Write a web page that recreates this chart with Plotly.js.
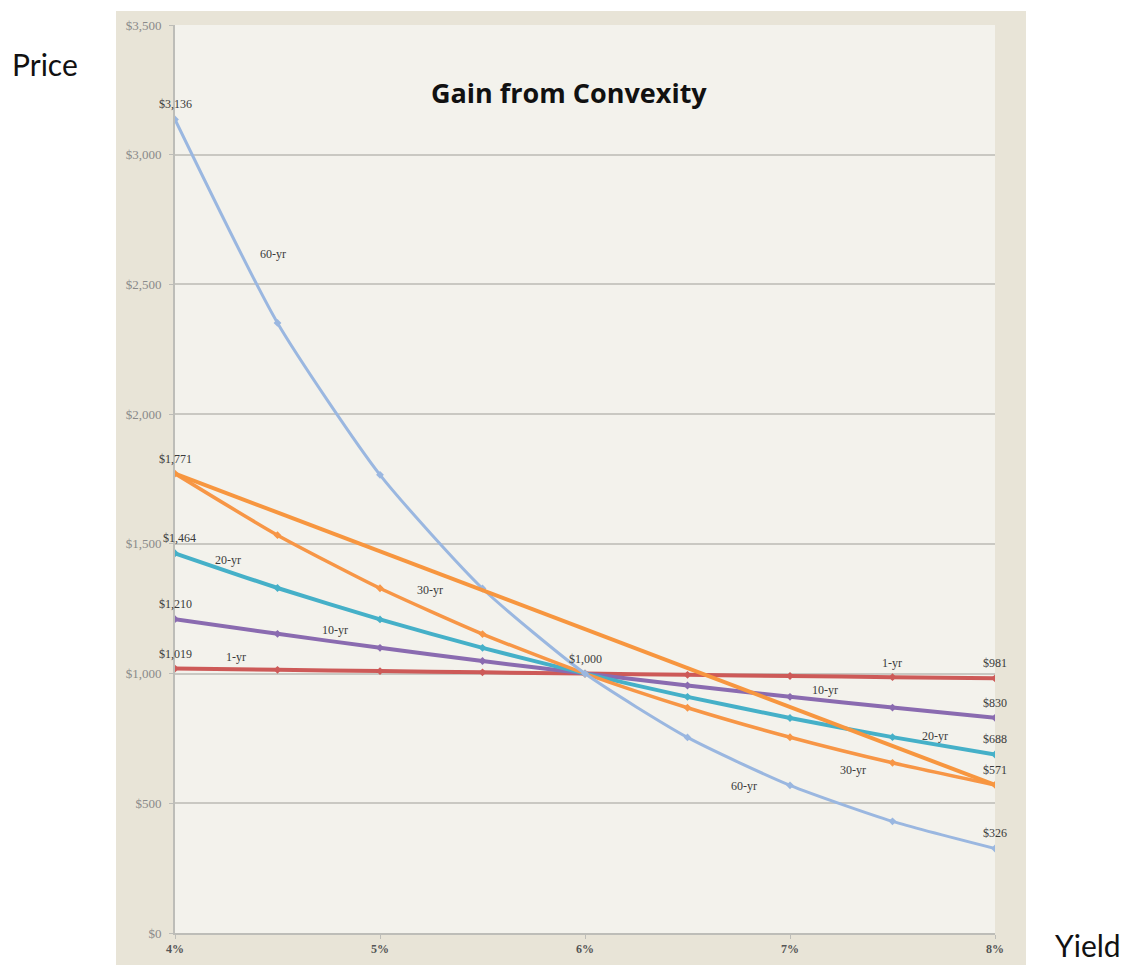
<!DOCTYPE html>
<html>
<head>
<meta charset="utf-8">
<script src="https://cdn.plot.ly/plotly-3.0.1.min.js"></script>
<style>html,body{margin:0;padding:0;background:#fff;}#chart{width:1127px;height:965px;}</style>
</head>
<body>
<div id="chart"></div>
<script>
// Yields (%)
const yields = [4, 4.5, 5, 5.5, 6, 6.5, 7, 7.5, 8];
// Bond prices by maturity
const price1yr  = [1019.2, 1014.4, 1009.5, 1004.7, 1000, 995.3, 990.7, 986.0, 981.5];
const price10yr = [1209.8, 1153.2, 1099.4, 1048.4, 1000, 954.0, 910.4, 868.9, 829.5];
const price20yr = [1463.7, 1329.8, 1208.7, 1099.2, 1000, 910.2, 828.8, 755.0, 688.1];
const price30yr = [1770.9, 1533.5, 1328.9, 1152.4, 1000, 868.3, 754.5, 656.0, 570.8];
const price60yr = [3135.9, 2351.6, 1766.0, 1328.0, 1000, 754.0, 569.3, 430.4, 325.8];
// Straight (linear) line between the 30-yr end points
const chordX = [4, 8];
const chordY = [1771, 571];

// Value labels
const valueLabelX    = [4, 4, 4, 4, 4, 6, 8, 8, 8, 8, 8];
const valueLabelY    = [3135.9, 1770.9, 1463.7, 1209.8, 1019.2, 1000, 981.5, 829.5, 688.1, 570.8, 325.8];
const valueLabelText = ["$3,136", "$1,771", "$1,464", "$1,210", "$1,019", "$1,000", "$981", "$830", "$688", "$571", "$326"];

// Series name labels
const nameLabelX    = [4.478, 4.259, 5.244, 4.780, 4.298, 7.498, 7.171, 7.707, 7.307, 6.776];
const nameLabelY    = [2617, 1438, 1322, 1168, 1064, 1041, 937, 759, 628, 567];
const nameLabelText = ["60-yr", "20-yr", "30-yr", "10-yr", "1-yr", "1-yr", "10-yr", "20-yr", "30-yr", "60-yr"];

// Axis ticks
const yTickVals = [0, 500, 1000, 1500, 2000, 2500, 3000, 3500];
const yTickText = ["$0", "$500", "$1,000", "$1,500", "$2,000", "$2,500", "$3,000", "$3,500"];
const xTickVals = [4, 5, 6, 7, 8];
const xTickText = ["4%", "5%", "6%", "7%", "8%"];

function series(y, color, width) {
  return {
    x: yields, y: y, type: 'scatter', mode: 'lines+markers',
    line: {color: color, width: width, shape: 'spline', smoothing: 0.6},
    marker: {color: color, size: 6, symbol: 'diamond'},
    hoverinfo: 'skip'
  };
}

const traces = [
  series(price1yr, '#cd5a58', 4),
  series(price10yr, '#8a6bb0', 4),
  series(price20yr, '#45b0c8', 4),
  series(price30yr, '#f79646', 3.5),
  series(price60yr, '#9ab7e0', 3),
  {x: chordX, y: chordY, type: 'scatter', mode: 'lines',
   line: {color: '#f7963f', width: 4}, hoverinfo: 'skip'}
];

const labelFont = {family: 'Liberation Serif, DejaVu Serif, serif', size: 12, color: '#3a3a3a'};
const annotations = [];
valueLabelText.forEach((t, i) => annotations.push({
  x: valueLabelX[i], y: valueLabelY[i], xref: 'x', yref: 'y', text: t,
  showarrow: false, yshift: 15, xshift: (t === '$1,464' ? 4 : 0), font: labelFont
}));
nameLabelText.forEach((t, i) => annotations.push({
  x: nameLabelX[i], y: nameLabelY[i], xref: 'x', yref: 'y', text: t,
  showarrow: false, font: labelFont
}));
annotations.push({x: 0.4805, y: 0.9262, xref: 'paper', yref: 'paper', xanchor: 'center', yanchor: 'middle',
  text: '<b>Gain from Convexity</b>',
  showarrow: false, font: {family: 'Open Sans, Lato, sans-serif', size: 27, color: '#111'}});
annotations.push({x: -0.1585, y: 0.957, xref: 'paper', yref: 'paper', xanchor: 'center', yanchor: 'middle',
  text: 'Price',
  showarrow: false, font: {family: 'Lato, Open Sans, sans-serif', size: 30, color: '#111'}});
annotations.push({x: 1.1134, y: -0.0132, xref: 'paper', yref: 'paper', xanchor: 'center', yanchor: 'middle',
  text: 'Yield',
  showarrow: false, font: {family: 'Lato, Open Sans, sans-serif', size: 30, color: '#111'}});

const layout = {
  width: 1127, height: 965,
  margin: {l: 175, r: 132, t: 25, b: 32},
  paper_bgcolor: '#ffffff',
  plot_bgcolor: 'rgba(0,0,0,0)',
  showlegend: false,
  hovermode: false,
  xaxis: {
    range: [4, 8], tickvals: xTickVals, ticktext: xTickText,
    showgrid: false, zeroline: false,
    showline: true, linecolor: '#bdbdb8', linewidth: 2,
    ticks: 'outside', ticklen: 4, tickcolor: '#bdbdb8', tickwidth: 1,
    tickfont: {family: 'Liberation Serif, DejaVu Serif, serif', size: 12, color: '#555', weight: 'bold'}
  },
  yaxis: {
    range: [0, 3500], tickvals: yTickVals, ticktext: yTickText,
    showgrid: true, gridcolor: '#c9c8c2', gridwidth: 2, zeroline: false,
    showline: true, linecolor: '#bdbdb8', linewidth: 2,
    ticks: 'outside', ticklen: 4, tickcolor: '#bdbdb8', tickwidth: 1,
    ticklabelstandoff: 5,
    tickfont: {family: 'Liberation Serif, DejaVu Serif, serif', size: 13, color: '#8a8a8a'}
  },
  shapes: [
    {type: 'rect', xref: 'paper', yref: 'paper', x0: -0.07195, x1: 1.0378, y0: -0.0352, y1: 1.0154,
     fillcolor: '#e8e4d7', line: {width: 0}, layer: 'below'},
    {type: 'rect', xref: 'paper', yref: 'paper', x0: 0, x1: 1, y0: 0, y1: 1,
     fillcolor: '#f3f2ec', line: {width: 0}, layer: 'below'}
  ],
  annotations: annotations
};

Plotly.newPlot('chart', traces, layout, {displayModeBar: false, staticPlot: true});
</script>
</body>
</html>
